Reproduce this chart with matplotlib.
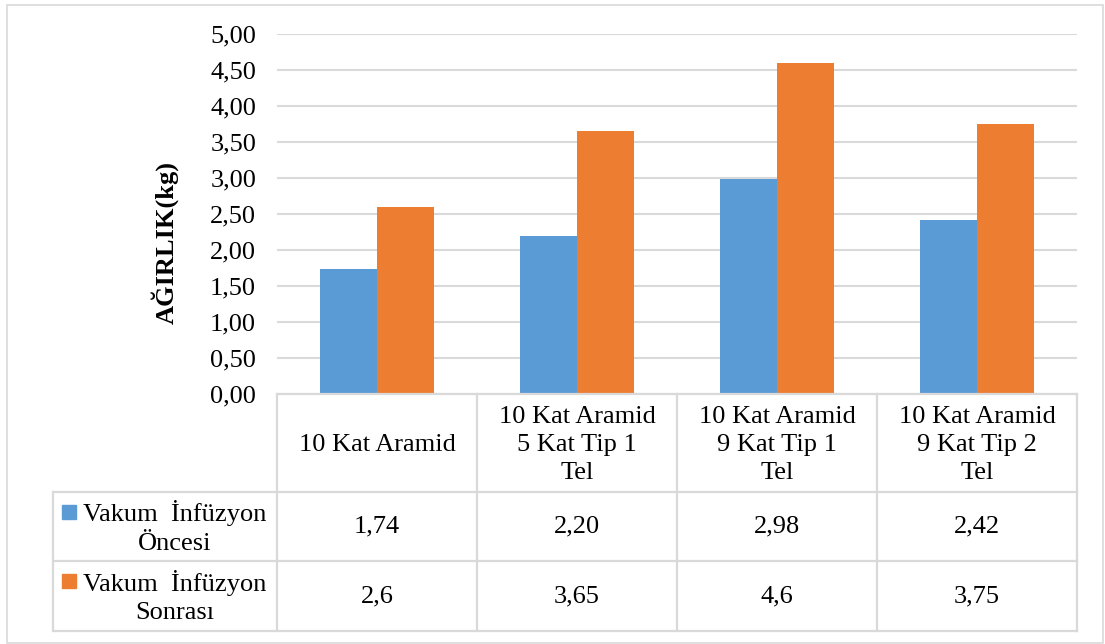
import matplotlib
matplotlib.use("Agg")
import matplotlib.pyplot as plt
from matplotlib.lines import Line2D
from matplotlib.patches import Rectangle

# Data
categories = [
    "10 Kat Aramid",
    "10 Kat Aramid\n5 Kat Tip 1\nTel",
    "10 Kat Aramid\n9 Kat Tip 1\nTel",
    "10 Kat Aramid\n9 Kat Tip 2\nTel",
]
series_names = ["Vakum  İnfüzyon\nÖncesi", "Vakum  İnfüzyon\nSonrası"]
before = [1.74, 2.20, 2.98, 2.42]
after = [2.6, 3.65, 4.6, 3.75]
yticks = [0.0, 0.5, 1.0, 1.5, 2.0, 2.5, 3.0, 3.5, 4.0, 4.5, 5.0]
y_label = "AĞIRLIK(kg)"

BLUE = "#5B9BD5"
ORANGE = "#ED7D31"
GRID = "#D9D9D9"
FONT = ["Liberation Serif", "DejaVu Serif"]
FS = 19
LS = 1.36

plt.rcParams["font.family"] = FONT

W, H = 1105, 644
fig = plt.figure(figsize=(W / 100, H / 100), dpi=100)


def fx(x):
    return x / W


def fy(y):
    return 1 - y / H


# Layout in pixel units
X0, X1 = 277, 1077          # plot / table category columns
Y_TOP, Y_BASE = 34, 394     # 5,00 and 0,00
TAB_LEFT = 53
ROW_Y = [394, 492, 561, 631]

ax = fig.add_axes([fx(X0), fy(Y_BASE), fx(X1) - fx(X0), (Y_BASE - Y_TOP) / H])
n = len(categories)
ax.set_xlim(0, n)
ax.set_ylim(0, 5)

bw = 0.285
xs = [i + 0.5 for i in range(n)]
ax.bar([x - bw / 2 for x in xs], before, width=bw, color=BLUE, zorder=3)
ax.bar([x + bw / 2 for x in xs], after, width=bw, color=ORANGE, zorder=3)

ax.set_yticks(yticks)
ax.set_yticklabels([f"{v:.2f}".replace(".", ",") for v in yticks], fontsize=FS)
ax.tick_params(axis="y", length=0, pad=15)
ax.set_xticks([])
ax.yaxis.grid(True, color=GRID, linewidth=1.5, zorder=0)
for s in ax.spines.values():
    s.set_visible(False)

fig.text(fx(165), fy(243), y_label, rotation=90, ha="center", va="center",
         fontsize=FS, fontweight="bold")

# Outer chart frame
fig.add_artist(Rectangle((fx(7), fy(643)), fx(1103) - fx(7), fy(5) - fy(643),
                         transform=fig.transFigure, fill=False,
                         edgecolor=GRID, linewidth=1.2))


def hline(y, xa, xb):
    fig.add_artist(Line2D([fx(xa), fx(xb)], [fy(y), fy(y)], color=GRID,
                          linewidth=1.6, transform=fig.transFigure,
                          solid_capstyle="projecting"))


def vline(x, ya, yb):
    fig.add_artist(Line2D([fx(x), fx(x)], [fy(ya), fy(yb)], color=GRID,
                          linewidth=1.6, transform=fig.transFigure,
                          solid_capstyle="projecting"))


# Data table grid
hline(ROW_Y[0], X0, X1)
for y in ROW_Y[1:]:
    hline(y, TAB_LEFT, X1)
col_w = (X1 - X0) / n
for i in range(n + 1):
    vline(X0 + i * col_w, ROW_Y[0], ROW_Y[-1])
vline(TAB_LEFT, ROW_Y[1], ROW_Y[-1])

# Header row: category names
hdr_cy = (ROW_Y[0] + ROW_Y[1]) / 2 + 2
for i, c in enumerate(categories):
    fig.text(fx(X0 + (i + 0.5) * col_w), fy(hdr_cy), c, ha="center",
             va="center", fontsize=FS, linespacing=LS)

# Series rows
row_vals = [[f"{v:.2f}".replace(".", ",") for v in before],
            [f"{v:g}".replace(".", ",") for v in after]]
row_cols = [BLUE, ORANGE]
for r in range(2):
    cy = (ROW_Y[r + 1] + ROW_Y[r + 2]) / 2
    fig.text(fx(175), fy(cy + 1), series_names[r], ha="center", va="center",
             fontsize=FS, linespacing=LS)
    fig.add_artist(Rectangle((fx(62), fy(cy - 8)), fx(14), 14 / H,
                             transform=fig.transFigure, color=row_cols[r]))
    for i, t in enumerate(row_vals[r]):
        fig.text(fx(X0 + (i + 0.5) * col_w), fy(cy), t, ha="center",
                 va="center", fontsize=FS)

fig.savefig("out.png", dpi=100)
